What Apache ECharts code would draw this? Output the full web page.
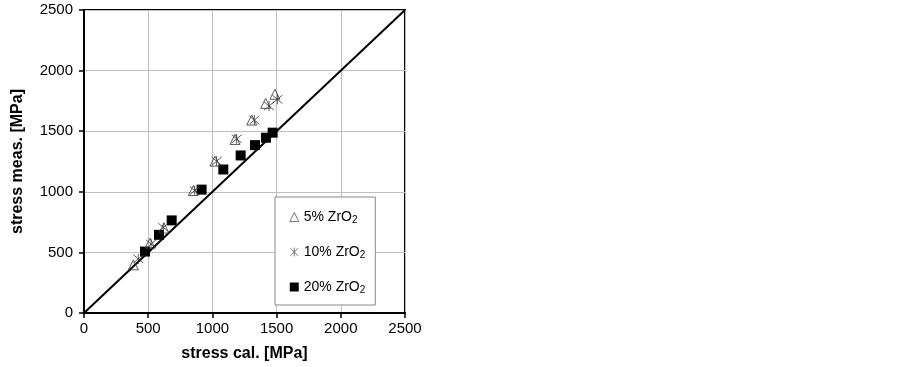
<!DOCTYPE html>
<html>
<head>
<meta charset="utf-8">
<script src="https://cdn.jsdelivr.net/npm/echarts@6/dist/echarts.min.js"></script>
<style>
html,body{margin:0;padding:0;background:#fff;}
#main{width:903px;height:367px;}
</style>
</head>
<body>
<div id="main"></div>
<script>
var axisTicks = [0, 500, 1000, 1500, 2000, 2500];

var zr5 = [[384, 397], [514, 577], [623, 701], [851, 1010], [1020, 1253], [1176, 1432], [1306, 1592], [1415, 1730], [1487, 1805]];
var zr10 = [[423, 447], [522, 569], [618, 706], [862, 1010], [1033, 1253], [1189, 1437], [1327, 1592], [1441, 1708], [1506, 1763]];
var zr20 = [[475, 507], [584, 645], [683, 764], [916, 1018], [1085, 1184], [1220, 1300], [1332, 1385], [1417, 1446], [1469, 1488]];
var diag = [[0, 0], [2500, 2500]];

var starPath = 'path://M0,0L10,10M10,0L0,10M5,-1L5,11';

window.onload = function () {
    var chart = echarts.init(document.getElementById('main'));
    var font = 'Liberation Sans, Arial, sans-serif';
    var tickLabel = function (v) { return axisTicks.indexOf(v) >= 0 ? String(v) : ''; };

    var option = {
        backgroundColor: '#fff',
        animation: false,
        grid: {
            left: 84, top: 10, width: 321, height: 303,
            show: true, borderColor: '#000', borderWidth: 2
        },
        legend: {
            orient: 'vertical',
            left: 275, top: 197,
            itemGap: 20,
            itemWidth: 9, itemHeight: 9,
            backgroundColor: '#fff',
            borderColor: '#888', borderWidth: 1,
            padding: [13, 10, 10, 13],
            data: [
                {name: '5%', icon: 'triangle', itemStyle: {color: '#fff', borderColor: '#555', borderWidth: 1}},
                {name: '10%', icon: starPath, itemStyle: {color: 'none', borderColor: '#555', borderWidth: 1}},
                {name: '20%', icon: 'rect', itemStyle: {color: '#000'}}
            ],
            formatter: function (n) { return '{a|' + n + ' ZrO}{s|2}'; },
            textStyle: {
                rich: {
                    a: {fontFamily: font, fontSize: 14, color: '#000'},
                    s: {fontFamily: font, fontSize: 10, color: '#000', verticalAlign: 'bottom', padding: [6, 0, 0, 0]}
                }
            }
        },
        xAxis: {
            type: 'value', min: 0, max: 2500, interval: 500,
            name: 'stress cal. [MPa]', nameLocation: 'middle', nameGap: 33,
            nameTextStyle: {fontFamily: font, fontSize: 16, fontWeight: 'bold', color: '#000'},
            axisLine: {lineStyle: {color: '#000', width: 2}},
            axisTick: {show: true, length: 5, lineStyle: {color: '#000', width: 1.5}},
            axisLabel: {fontFamily: font, fontSize: 15, color: '#000', margin: 8, formatter: tickLabel},
            splitLine: {lineStyle: {color: '#c0c0c0', width: 1}}
        },
        yAxis: {
            type: 'value', min: 0, max: 2500, interval: 500,
            name: 'stress meas. [MPa]', nameLocation: 'middle', nameGap: 58,
            nameTextStyle: {fontFamily: font, fontSize: 16, fontWeight: 'bold', color: '#000'},
            axisLine: {show: true, lineStyle: {color: '#000', width: 2}},
            axisTick: {show: true, length: 5, lineStyle: {color: '#000', width: 1.5}},
            axisLabel: {fontFamily: font, fontSize: 15, color: '#000', margin: 11, formatter: tickLabel},
            splitLine: {lineStyle: {color: '#c0c0c0', width: 1}}
        },
        series: [{
            type: 'line', data: diag, symbol: 'none', silent: true,
            lineStyle: {color: '#000', width: 2}, z: 1
        }, {
            name: '5%', type: 'scatter', data: zr5, symbol: 'triangle', symbolSize: 10,
            itemStyle: {color: 'rgba(255,255,255,0)', borderColor: '#333', borderWidth: 1}, z: 3
        }, {
            name: '10%', type: 'scatter', data: zr10, symbol: starPath, symbolSize: 10,
            itemStyle: {color: 'none', borderColor: '#333', borderWidth: 1}, z: 3
        }, {
            name: '20%', type: 'scatter', data: zr20, symbol: 'rect', symbolSize: 10,
            itemStyle: {color: '#000', opacity: 1}, z: 2
        }]
    };
    chart.setOption(option);
};
</script>
</body>
</html>
